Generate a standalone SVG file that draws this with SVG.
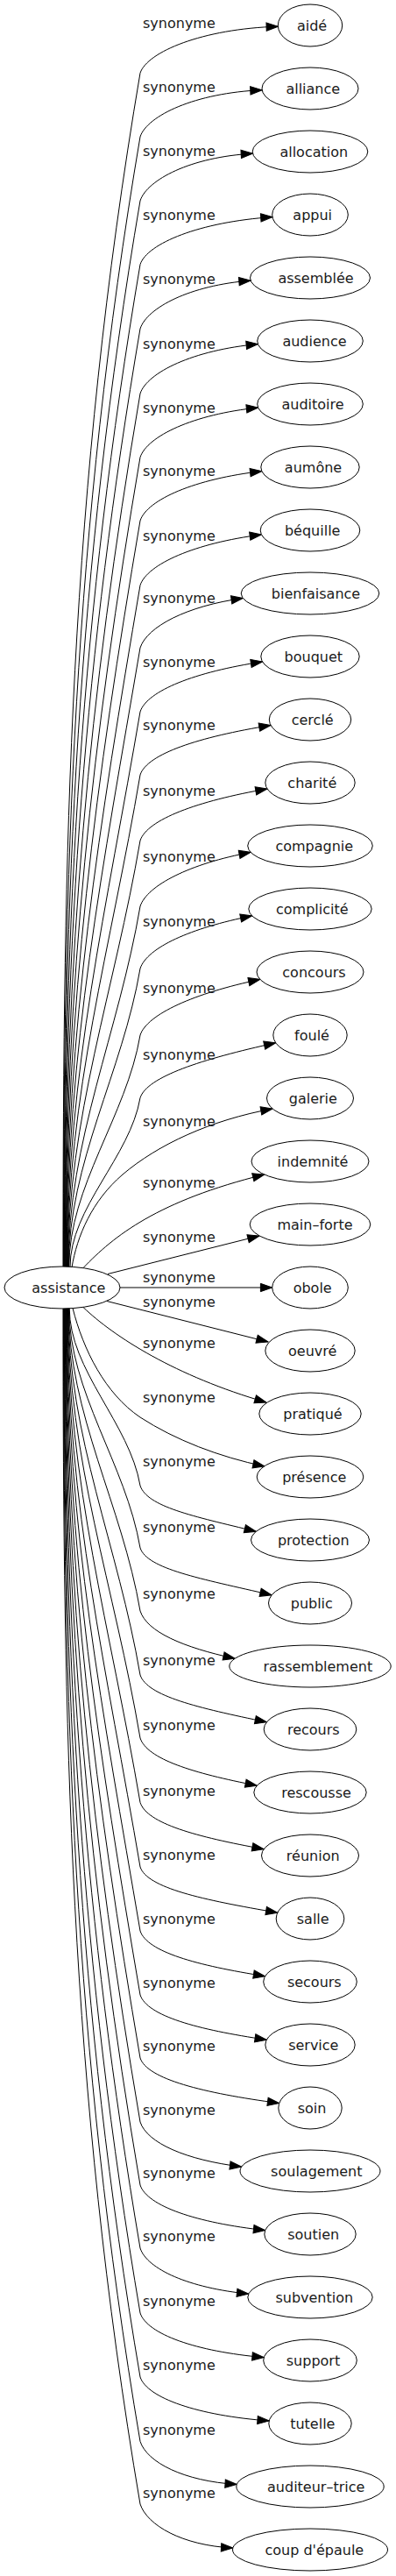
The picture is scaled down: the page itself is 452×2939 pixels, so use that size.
<svg xmlns="http://www.w3.org/2000/svg" width="452" height="2939" viewBox="0 0 452 2939">
<defs>
<style>
.e{fill:none;stroke:#000;stroke-width:1;marker-end:url(#ah)}
.l{font-family:"DejaVu Sans",sans-serif;font-size:16px;fill:#1a1a1a;text-anchor:middle}
.n ellipse{fill:#fff;stroke:#000;stroke-width:1}
.n text{font-family:"DejaVu Sans",sans-serif;font-size:16px;fill:#1a1a1a;text-anchor:middle}
</style>
<marker id="ah" markerUnits="userSpaceOnUse" markerWidth="15" markerHeight="11" refX="13.3" refY="4.65" orient="auto" overflow="visible"><path d="M0,0L13.3,4.65L0,9.3Z" fill="#000" stroke="#000" stroke-width="1"/></marker>
</defs>
<rect width="452" height="2939" fill="#fff"/>
<g id="connectors">
<g class="edge"><path class="e" d="M72,1445.5 C72,968.7 78.9,560.1 160,83.3 C168,59.3 230.8,32.8 317.4,30.2"/><text class="l" x="204.4" y="32.3">synonyme</text></g>
<g class="edge"><path class="e" d="M72.45,1445.5 C72.45,994.2 83.3,607.3 160,156 C168,132 222.6,105.9 299.1,102.7"/><text class="l" x="204.4" y="105">synonyme</text></g>
<g class="edge"><path class="e" d="M72.9,1445.5 C72.9,1019.7 87.6,654.8 160,229 C168,205 217.8,179 288.5,175.2"/><text class="l" x="204.4" y="178">synonyme</text></g>
<g class="edge"><path class="e" d="M73.35,1445.5 C73.35,1045.2 92,702 160,301.7 C168,277.7 228,253.1 311,247.6"/><text class="l" x="204.4" y="250.7">synonyme</text></g>
<g class="edge"><path class="e" d="M73.8,1445.5 C73.8,1070.8 96.3,749.7 160,375 C168,351 216.7,325.5 286.1,320.1"/><text class="l" x="204.4" y="324">synonyme</text></g>
<g class="edge"><path class="e" d="M74.25,1445.5 C74.25,1096.7 100.7,797.8 160,449 C168,425 220.5,399.3 294.4,392.6"/><text class="l" x="204.4" y="398">synonyme</text></g>
<g class="edge"><path class="e" d="M74.7,1445.5 C74.7,1122.2 105,845 160,521.7 C168,497.7 220.6,472.6 294.6,465.1"/><text class="l" x="204.4" y="470.7">synonyme</text></g>
<g class="edge"><path class="e" d="M75.15,1445.5 C75.15,1147.5 109.3,892 160,594 C168,570 222.5,546.3 298.8,537.6"/><text class="l" x="204.4" y="543">synonyme</text></g>
<g class="edge"><path class="e" d="M75.6,1445.5 C75.6,1173.3 113.7,939.9 160,667.7 C168,643.7 222.3,619.6 298.4,610"/><text class="l" x="204.4" y="616.7">synonyme</text></g>
<g class="edge"><path class="e" d="M76.05,1445.5 C76.05,1198.2 118,986.3 160,739 C168,715 212.8,691.4 277.3,682.5"/><text class="l" x="204.4" y="688">synonyme</text></g>
<g class="edge"><path class="e" d="M76.5,1445.5 C76.5,1223.8 122.3,1033.7 160,812 C168,788 222.8,766.5 299.6,755"/><text class="l" x="204.4" y="761">synonyme</text></g>
<g class="edge"><path class="e" d="M76.95,1445.5 C76.95,1249 126.6,1080.5 160,884 C168,860 227,840.8 309,827.5"/><text class="l" x="204.4" y="833">synonyme</text></g>
<g class="edge"><path class="e" d="M77.4,1445.5 C77.4,1275.2 131,1129.3 160,959 C168,935 225.2,913.9 305,900"/><text class="l" x="204.4" y="908">synonyme</text></g>
<g class="edge"><path class="e" d="M77.85,1445.5 C77.85,1301.5 135.5,1178 160,1034 C168,1010 216.8,985.3 286.2,972.4"/><text class="l" x="204.4" y="983">synonyme</text></g>
<g class="edge"><path class="e" d="M78.3,1445.5 C78.3,1326.3 139.7,1224.2 160,1105 C168,1081 217.5,1058.8 287.7,1044.9"/><text class="l" x="204.4" y="1057">synonyme</text></g>
<g class="edge"><path class="e" d="M78.75,1445.5 C78.75,1352.9 144.3,1273.6 160,1181 C168,1157 221.6,1133.2 296.9,1117.4"/><text class="l" x="204.4" y="1133">synonyme</text></g>
<g class="edge"><path class="e" d="M80,1445.5 C80,1377.9 148.5,1320.1 160,1252.5 C168,1228.5 229.6,1208.5 314.7,1189.8"/><text class="l" x="204.4" y="1208.5">synonyme</text></g>
<g class="edge"><path class="e" d="M82,1446 C88,1410 105,1370 140,1340 C180,1306 240,1278 311,1265"/><text class="l" x="204.4" y="1284.5">synonyme</text></g>
<g class="edge"><path class="e" d="M95,1446.6 C130,1410 180,1370 301.7,1340"/><text class="l" x="204.4" y="1355">synonyme</text></g>
<g class="edge"><path class="e" d="M123,1453.5 L296,1410"/><text class="l" x="204.4" y="1417">synonyme</text></g>
<g class="edge"><path class="e" d="M137,1469 L310.7,1469"/><text class="l" x="204.4" y="1463">synonyme</text></g>
<g class="edge"><path class="e" d="M122,1484.5 L306,1531"/><text class="l" x="204.4" y="1490.5">synonyme</text></g>
<g class="edge"><path class="e" d="M95,1491.5 C130,1525 200,1570 304,1600"/><text class="l" x="204.4" y="1538">synonyme</text></g>
<g class="edge"><path class="e" d="M83,1492.5 C95,1540 120,1590 160,1617 C200,1643 250,1662 302,1673"/><text class="l" x="204.4" y="1600">synonyme</text></g>
<g class="edge"><path class="e" d="M79.2,1492.5 C79.2,1563.4 148,1624.1 160,1695 C168,1719 219.5,1729.7 292.3,1747.3"/><text class="l" x="204.4" y="1673">synonyme</text></g>
<g class="edge"><path class="e" d="M78.75,1492.5 C78.75,1588.2 143.7,1670.3 160,1766 C168,1790 227.5,1800.8 310.1,1819.8"/><text class="l" x="204.4" y="1748">synonyme</text></g>
<g class="edge"><path class="e" d="M78.3,1492.5 C78.3,1613.4 139.4,1717.1 160,1838 C168,1862 208.6,1879.3 268.1,1892.3"/><text class="l" x="204.4" y="1824">synonyme</text></g>
<g class="edge"><path class="e" d="M77.85,1492.5 C77.85,1639 135.1,1764.5 160,1911 C168,1935 225,1948.4 304.4,1964.8"/><text class="l" x="204.4" y="1900">synonyme</text></g>
<g class="edge"><path class="e" d="M77.4,1492.5 C77.4,1664.2 130.8,1811.3 160,1983 C168,2007 220,2023 293.3,2037.2"/><text class="l" x="204.4" y="1974">synonyme</text></g>
<g class="edge"><path class="e" d="M76.95,1492.5 C76.95,1689.9 126.4,1859.1 160,2056.5 C168,2080.5 223.5,2095.6 301.1,2109.7"/><text class="l" x="204.4" y="2048.5">synonyme</text></g>
<g class="edge"><path class="e" d="M76.5,1492.5 C76.5,1715.6 122.1,1906.9 160,2130 C168,2154 230.6,2167.5 316.8,2182.2"/><text class="l" x="204.4" y="2122">synonyme</text></g>
<g class="edge"><path class="e" d="M76.05,1492.5 C76.05,1741.2 117.7,1954.3 160,2203 C168,2227 224.2,2242.3 302.6,2254.7"/><text class="l" x="204.4" y="2195">synonyme</text></g>
<g class="edge"><path class="e" d="M75.6,1492.5 C75.6,1766.7 113.4,2001.8 160,2276 C168,2300 224.9,2315.6 304.3,2327.2"/><text class="l" x="204.4" y="2268">synonyme</text></g>
<g class="edge"><path class="e" d="M75.15,1492.5 C75.15,1791.9 109.1,2048.6 160,2348 C168,2372 231.4,2387.9 318.7,2399.6"/><text class="l" x="204.4" y="2340">synonyme</text></g>
<g class="edge"><path class="e" d="M74.7,1492.5 C74.7,1817.5 104.7,2096 160,2421 C168,2445 212.1,2464.3 275.7,2472.1"/><text class="l" x="204.4" y="2413">synonyme</text></g>
<g class="edge"><path class="e" d="M74.25,1492.5 C74.25,1842.7 100.5,2142.8 160,2493 C168,2517 224.2,2536 302.7,2544.6"/><text class="l" x="204.4" y="2485">synonyme</text></g>
<g class="edge"><path class="e" d="M73.8,1492.5 C73.8,1867.9 96.2,2189.6 160,2565 C168,2589 215.7,2610.4 283.7,2617.1"/><text class="l" x="204.4" y="2557">synonyme</text></g>
<g class="edge"><path class="e" d="M73.35,1492.5 C73.35,1893.8 91.8,2237.7 160,2639 C168,2663 223.5,2682.9 301.2,2689.6"/><text class="l" x="204.4" y="2631">synonyme</text></g>
<g class="edge"><path class="e" d="M72.9,1492.5 C72.9,1919.3 87.4,2285.2 160,2712 C168,2736 226.2,2756 307.2,2762"/><text class="l" x="204.4" y="2704">synonyme</text></g>
<g class="edge"><path class="e" d="M72.45,1492.5 C72.45,1945.1 83.1,2332.9 160,2785.5 C168,2809.5 209.6,2830.7 270.3,2834.5"/><text class="l" x="204.4" y="2777.5">synonyme</text></g>
<g class="edge"><path class="e" d="M72,1492.5 C72,1970.1 78.8,2379.4 160,2857 C168,2881 207.6,2904.1 265.8,2907"/><text class="l" x="204.4" y="2850">synonyme</text></g>
</g>
<g id="nodes">
<g id="n-assistance" class="n"><ellipse cx="71" cy="1469" rx="66" ry="24"/><text x="78.3" y="1474.5">assistance</text></g>
<g id="n-aide" class="n"><ellipse cx="354" cy="29" rx="36.7" ry="24"/><text x="356" y="34.5">aidé</text></g>
<g id="n-alliance" class="n"><ellipse cx="354" cy="101" rx="55" ry="24"/><text x="357.3" y="106.5">alliance</text></g>
<g id="n-allocation" class="n"><ellipse cx="354" cy="173" rx="65.8" ry="24"/><text x="358.3" y="178.5">allocation</text></g>
<g id="n-appui" class="n"><ellipse cx="354" cy="245" rx="43.3" ry="24"/><text x="356.7" y="250.5">appui</text></g>
<g id="n-assemblee" class="n"><ellipse cx="354" cy="317" rx="68.5" ry="24"/><text x="360.5" y="322.5">assemblée</text></g>
<g id="n-audience" class="n"><ellipse cx="354" cy="389" rx="60.3" ry="24"/><text x="359" y="394.5">audience</text></g>
<g id="n-auditoire" class="n"><ellipse cx="354" cy="461" rx="60.3" ry="24"/><text x="357" y="466.5">auditoire</text></g>
<g id="n-aumone" class="n"><ellipse cx="354" cy="533" rx="56.2" ry="24"/><text x="357.5" y="538.5">aumône</text></g>
<g id="n-bequille" class="n"><ellipse cx="354" cy="605" rx="56.8" ry="24"/><text x="356.7" y="610.5">béquille</text></g>
<g id="n-bienfaisance" class="n"><ellipse cx="354" cy="677" rx="78.8" ry="24"/><text x="360.5" y="682.5">bienfaisance</text></g>
<g id="n-bouquet" class="n"><ellipse cx="354" cy="749" rx="56.2" ry="24"/><text x="357.8" y="754.5">bouquet</text></g>
<g id="n-cercle" class="n"><ellipse cx="354" cy="821" rx="46.7" ry="24"/><text x="356.7" y="826.5">cerclé</text></g>
<g id="n-charite" class="n"><ellipse cx="354" cy="893" rx="51.2" ry="24"/><text x="356.3" y="898.5">charité</text></g>
<g id="n-compagnie" class="n"><ellipse cx="354" cy="965" rx="71.3" ry="24"/><text x="358.8" y="970.5">compagnie</text></g>
<g id="n-complicite" class="n"><ellipse cx="354" cy="1037" rx="70.2" ry="24"/><text x="356.3" y="1042.5">complicité</text></g>
<g id="n-concours" class="n"><ellipse cx="354" cy="1109" rx="61" ry="24"/><text x="358.5" y="1114.5">concours</text></g>
<g id="n-foule" class="n"><ellipse cx="354" cy="1181" rx="42.2" ry="24"/><text x="356" y="1186.5">foulé</text></g>
<g id="n-galerie" class="n"><ellipse cx="354" cy="1253" rx="49.5" ry="24"/><text x="357.3" y="1258.5">galerie</text></g>
<g id="n-indemnite" class="n"><ellipse cx="354" cy="1325" rx="67" ry="24"/><text x="357" y="1330.5">indemnité</text></g>
<g id="n-main-forte" class="n"><ellipse cx="354" cy="1397" rx="68.8" ry="24"/><text x="359.5" y="1402.5">main–forte</text></g>
<g id="n-obole" class="n"><ellipse cx="354" cy="1469" rx="43.3" ry="24"/><text x="356.7" y="1474.5">obole</text></g>
<g id="n-oeuvre" class="n"><ellipse cx="354" cy="1541" rx="51.2" ry="24"/><text x="356.7" y="1546.5">oeuvré</text></g>
<g id="n-pratique" class="n"><ellipse cx="354" cy="1613" rx="58.2" ry="24"/><text x="357" y="1618.5">pratiqué</text></g>
<g id="n-presence" class="n"><ellipse cx="354" cy="1685" rx="60.8" ry="24"/><text x="358.8" y="1690.5">présence</text></g>
<g id="n-protection" class="n"><ellipse cx="354" cy="1757" rx="67.5" ry="24"/><text x="357.8" y="1762.5">protection</text></g>
<g id="n-public" class="n"><ellipse cx="354" cy="1829" rx="47.5" ry="24"/><text x="355.8" y="1834.5">public</text></g>
<g id="n-rassemblement" class="n"><ellipse cx="354" cy="1901" rx="92.2" ry="24"/><text x="362.8" y="1906.5">rassemblement</text></g>
<g id="n-recours" class="n"><ellipse cx="354" cy="1973" rx="52.8" ry="24"/><text x="357.8" y="1978.5">recours</text></g>
<g id="n-rescousse" class="n"><ellipse cx="354" cy="2045" rx="64.2" ry="24"/><text x="361" y="2050.5">rescousse</text></g>
<g id="n-reunion" class="n"><ellipse cx="354" cy="2117" rx="55.5" ry="24"/><text x="357.2" y="2122.5">réunion</text></g>
<g id="n-salle" class="n"><ellipse cx="354" cy="2189" rx="38.8" ry="24"/><text x="357.2" y="2194.5">salle</text></g>
<g id="n-secours" class="n"><ellipse cx="354" cy="2261" rx="53.3" ry="24"/><text x="358.8" y="2266.5">secours</text></g>
<g id="n-service" class="n"><ellipse cx="354" cy="2333" rx="51.2" ry="24"/><text x="357.8" y="2338.5">service</text></g>
<g id="n-soin" class="n"><ellipse cx="354" cy="2405" rx="36.2" ry="24"/><text x="356" y="2410.5">soin</text></g>
<g id="n-soulagement" class="n"><ellipse cx="354" cy="2477" rx="80" ry="24"/><text x="361.3" y="2482.5">soulagement</text></g>
<g id="n-soutien" class="n"><ellipse cx="354" cy="2549" rx="52.2" ry="24"/><text x="357.7" y="2554.5">soutien</text></g>
<g id="n-subvention" class="n"><ellipse cx="354" cy="2621" rx="71.2" ry="24"/><text x="358.8" y="2626.5">subvention</text></g>
<g id="n-support" class="n"><ellipse cx="354" cy="2693" rx="53.3" ry="24"/><text x="357.5" y="2698.5">support</text></g>
<g id="n-tutelle" class="n"><ellipse cx="354" cy="2765" rx="47.2" ry="24"/><text x="356.8" y="2770.5">tutelle</text></g>
<g id="n-auditeur-trice" class="n"><ellipse cx="354" cy="2837" rx="84.2" ry="24"/><text x="360.7" y="2842.5">auditeur–trice</text></g>
<g id="n-coup-d-epaule" class="n"><ellipse cx="354" cy="2909" rx="88.5" ry="24"/><text x="358.8" y="2914.5">coup d'épaule</text></g>
</g>
</svg>
